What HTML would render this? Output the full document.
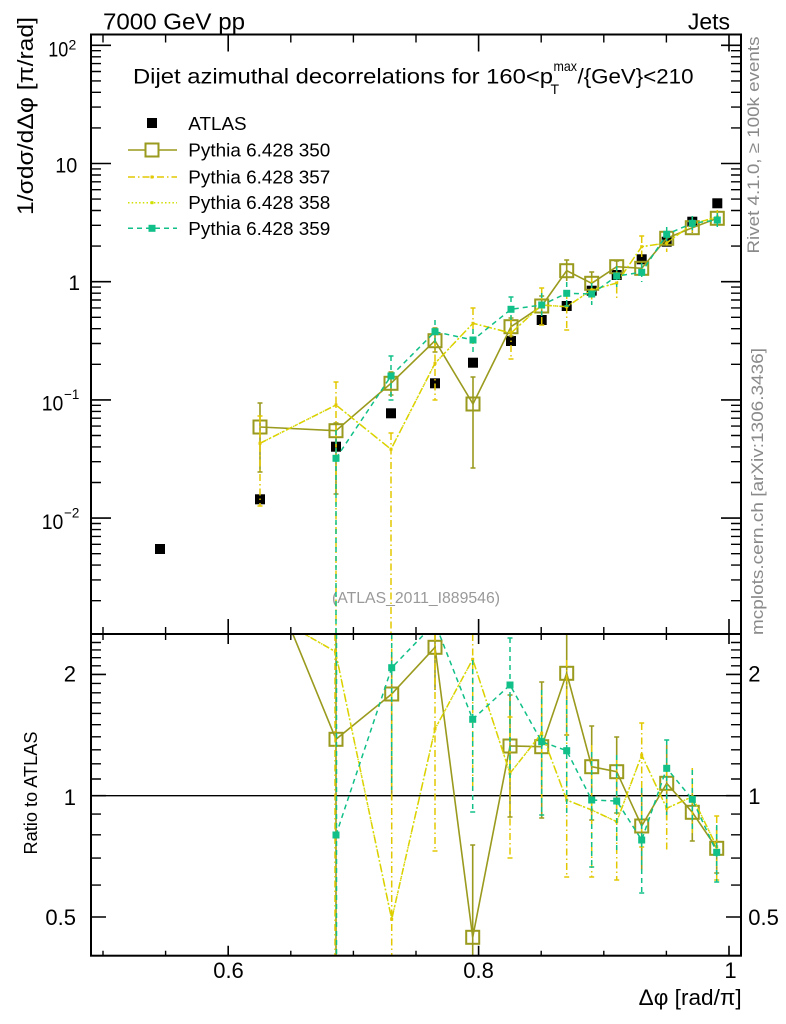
<!DOCTYPE html>
<html><head><meta charset="utf-8"><style>
html,body{margin:0;padding:0;background:#fff;}
svg{display:block;}
text{font-family:"Liberation Sans",sans-serif;}
</style></head><body>
<svg width="786" height="1024" viewBox="0 0 786 1024" xmlns="http://www.w3.org/2000/svg">
<defs>
<clipPath id="cu"><rect x="91" y="34.5" width="650" height="599.5"/></clipPath>
<clipPath id="cl"><rect x="91" y="634" width="650" height="321.7"/></clipPath>
</defs>
<rect width="786" height="1024" fill="#fff"/>

<!-- header texts -->
<text x="103" y="29.3" font-size="23" textLength="142" lengthAdjust="spacingAndGlyphs">7000 GeV pp</text>
<text x="730" y="29.3" font-size="23" text-anchor="end">Jets</text>

<!-- title -->
<text x="133" y="83.3" font-size="21.5" textLength="420" lengthAdjust="spacingAndGlyphs">Dijet azimuthal decorrelations for 160&lt;p</text>
<text x="553.5" y="71" font-size="14" textLength="23.5" lengthAdjust="spacingAndGlyphs">max</text>
<text x="550.5" y="94" font-size="14">T</text>
<text x="577.5" y="83.3" font-size="21.5" textLength="116" lengthAdjust="spacingAndGlyphs">/{GeV}&lt;210</text>

<!-- y axis titles -->
<text transform="translate(33,116) rotate(-90)" font-size="22" text-anchor="middle" textLength="198" lengthAdjust="spacingAndGlyphs">1/σdσ/dΔφ [π/rad]</text>
<text transform="translate(37,793) rotate(-90)" font-size="18.5" text-anchor="middle" textLength="123" lengthAdjust="spacingAndGlyphs">Ratio to ATLAS</text>

<!-- right side rotated gray texts -->
<text transform="translate(759,145) rotate(-90)" font-size="16.5" fill="#8a8a8a" text-anchor="middle" textLength="217" lengthAdjust="spacingAndGlyphs">Rivet 4.1.0, ≥ 100k events</text>
<text transform="translate(763,491.5) rotate(-90)" font-size="16.5" fill="#8a8a8a" text-anchor="middle" textLength="287" lengthAdjust="spacingAndGlyphs">mcplots.cern.ch [arXiv:1306.3436]</text>

<!-- analysis id -->
<text x="416" y="603" font-size="15.5" fill="#999" text-anchor="middle" textLength="168" lengthAdjust="spacingAndGlyphs">(ATLAS_2011_I889546)</text>

<!-- upper y tick labels -->
<text x="48.3" y="56.7" font-size="21" textLength="20" lengthAdjust="spacingAndGlyphs">10</text>
<text x="68.5" y="49.5" font-size="14">2</text>
<text x="77.3" y="172.7" font-size="21" text-anchor="end" textLength="22" lengthAdjust="spacingAndGlyphs">10</text>
<text x="80" y="290" font-size="21" text-anchor="end">1</text>
<text x="41.7" y="410.7" font-size="21" textLength="21.6" lengthAdjust="spacingAndGlyphs">10</text>
<text x="64" y="399" font-size="14" textLength="15.3" lengthAdjust="spacingAndGlyphs">−1</text>
<text x="41.7" y="529" font-size="21" textLength="21.6" lengthAdjust="spacingAndGlyphs">10</text>
<text x="64" y="517.5" font-size="14" textLength="15.3" lengthAdjust="spacingAndGlyphs">−2</text>

<!-- ratio tick labels -->
<text x="76" y="681.7" font-size="22" text-anchor="end">2</text>
<text x="76" y="805" font-size="22" text-anchor="end">1</text>
<text x="76" y="925" font-size="22" text-anchor="end">0.5</text>
<text x="748.3" y="681.7" font-size="22">2</text>
<text x="748.3" y="804" font-size="22">1</text>
<text x="748.3" y="925" font-size="22">0.5</text>

<!-- x tick labels -->
<text x="228.5" y="978" font-size="22" text-anchor="middle">0.6</text>
<text x="478.6" y="978" font-size="22" text-anchor="middle">0.8</text>
<text x="730.5" y="978" font-size="22" text-anchor="middle">1</text>
<text x="741.7" y="1005" font-size="22" text-anchor="end" textLength="103" lengthAdjust="spacingAndGlyphs">Δφ [rad/π]</text>

<!-- legend -->
<rect x="147" y="118" width="10" height="10" fill="#000"/>
<text x="188.3" y="130" font-size="18.5" textLength="58.3" lengthAdjust="spacingAndGlyphs">ATLAS</text>
<line x1="128" y1="150" x2="177" y2="150" stroke="#9a9a1e" stroke-width="1.6"/>
<rect x="145.5" y="143.5" width="13" height="13" fill="#fff" stroke="#9a9a1e" stroke-width="2"/>
<text x="188.3" y="156.7" font-size="18.5" textLength="142" lengthAdjust="spacingAndGlyphs">Pythia 6.428 350</text>
<line x1="128" y1="177" x2="177" y2="177" stroke="#e2c800" stroke-width="1.5" stroke-dasharray="7,3,1.5,3"/>
<rect x="150.5" y="175.5" width="3" height="3" fill="#e2c800"/>
<text x="188.3" y="183.5" font-size="18.5" textLength="142" lengthAdjust="spacingAndGlyphs">Pythia 6.428 357</text>
<line x1="128" y1="202.7" x2="177" y2="202.7" stroke="#d0e000" stroke-width="1.5" stroke-dasharray="1.5,2.2"/>
<rect x="150.5" y="201.2" width="3" height="3" fill="#d0e000"/>
<text x="188.3" y="209.2" font-size="18.5" textLength="142" lengthAdjust="spacingAndGlyphs">Pythia 6.428 358</text>
<line x1="128" y1="228.3" x2="177" y2="228.3" stroke="#10c088" stroke-width="1.5" stroke-dasharray="5,4"/>
<rect x="148.5" y="224.8" width="7" height="7" fill="#10c088"/>
<text x="188.3" y="234.8" font-size="18.5" textLength="142" lengthAdjust="spacingAndGlyphs">Pythia 6.428 359</text>

<!-- ===== UPPER PANEL DATA ===== -->
<g clip-path="url(#cu)">
<!-- ATLAS -->
<g fill="#000">
<rect x="155" y="544" width="10" height="10"/>
<rect x="255" y="494.3" width="10" height="10"/>
<rect x="331" y="441.7" width="10" height="10"/>
<rect x="386" y="408.3" width="10" height="10"/>
<rect x="430" y="378.3" width="10" height="10"/>
<rect x="468" y="357.7" width="10" height="10"/>
<rect x="506" y="336" width="10" height="10"/>
<rect x="536.7" y="315" width="10" height="10"/>
<rect x="561.7" y="301" width="10" height="10"/>
<rect x="586.7" y="285.7" width="10" height="10"/>
<rect x="611.7" y="270" width="10" height="10"/>
<rect x="636.7" y="254.3" width="10" height="10"/>
<rect x="661.7" y="236.7" width="10" height="10"/>
<rect x="687.3" y="216.7" width="10" height="10"/>
<rect x="712.3" y="198.3" width="10" height="10"/>
</g>

<!-- 350 -->
<g stroke="#9a9a1e" stroke-width="1.6" fill="none">
<polyline points="260,427 336,430.7 391,383.3 435,340.7 473,404 511,326.7 541.7,306 566.7,270.7 591.7,283.3 616.7,266.7 641.7,268.3 666.7,238.3 692.3,227.7 717.3,218.3"/>
<path d="M260 403V472M257.5 403h5M257.5 472h5M336 423V494M333.5 423h5M333.5 494h5M391 372V395M388.5 372h5M388.5 395h5M435 328V352M432.5 328h5M432.5 352h5M473 377V468M470.5 377h5M470.5 468h5M511 318V336M508.5 318h5M508.5 336h5M541.7 296V316M539.2 296h5M566.7 260V281M564.2 260h5M591.7 272V294M589.2 272h5M616.7 261V274M614.2 261h5M641.7 262V275M666.7 232V244M692.3 222V233M717.3 212V225"/>
</g>
<g stroke="#9a9a1e" stroke-width="2" fill="none">
<rect x="253.5" y="420.5" width="13" height="13"/>
<rect x="329.5" y="424.2" width="13" height="13"/>
<rect x="384.5" y="376.8" width="13" height="13"/>
<rect x="428.5" y="334.2" width="13" height="13"/>
<rect x="466.5" y="397.5" width="13" height="13"/>
<rect x="504.5" y="320.2" width="13" height="13"/>
<rect x="535.2" y="299.5" width="13" height="13"/>
<rect x="560.2" y="264.2" width="13" height="13"/>
<rect x="585.2" y="276.8" width="13" height="13"/>
<rect x="610.2" y="260.2" width="13" height="13"/>
<rect x="635.2" y="261.8" width="13" height="13"/>
<rect x="660.2" y="231.8" width="13" height="13"/>
<rect x="685.8" y="221.2" width="13" height="13"/>
<rect x="710.8" y="211.8" width="13" height="13"/>
</g>

<!-- 357 -->
<g stroke="#e2c800" stroke-width="1.5" fill="none" stroke-dasharray="7,3,1.5,3">
<polyline points="260,443.3 336,405 391,449.3 435,363.3 473,323.3 511,333 541.7,305 566.7,306.7 591.7,290 616.7,283 641.7,246.7 666.7,243 692.3,224 717.3,217"/>
<path d="M260 416V506M336 382V634M391 433V634M435 340V400M473 308V345M511 316V359M541.7 288V325M566.7 292V330M591.7 278V304M616.7 272V298M641.7 236V257M666.7 234V252M692.3 216V232M717.3 210V224"/>
</g>
<path d="M257.5 416h5M257.5 506h5M333.5 382h5M388.5 433h5M432.5 400h5M470.5 308h5M508.5 359h5M539.2 288h5M539.2 325h5M564.2 330h5M639.2 236h5" stroke="#e2c800" stroke-width="1.5"/>
<!-- 358 (overlaps 357) -->
<polyline points="260,443.3 336,405 391,449.3 435,363.3 473,323.3 511,333 541.7,305 566.7,306.7 591.7,290 616.7,283 641.7,246.7 666.7,243 692.3,224 717.3,217" stroke="#d0e000" stroke-width="1.4" fill="none" stroke-dasharray="1.5,2.2"/>
<g fill="#e2c800">
<rect x="258.5" y="441.8" width="3" height="3"/><rect x="334.5" y="403.5" width="3" height="3"/><rect x="389.5" y="447.8" width="3" height="3"/><rect x="433.5" y="361.8" width="3" height="3"/><rect x="471.5" y="321.8" width="3" height="3"/><rect x="509.5" y="331.5" width="3" height="3"/><rect x="540.2" y="303.5" width="3" height="3"/><rect x="565.2" y="305.2" width="3" height="3"/><rect x="590.2" y="288.5" width="3" height="3"/><rect x="615.2" y="281.5" width="3" height="3"/><rect x="640.2" y="245.2" width="3" height="3"/><rect x="665.2" y="241.5" width="3" height="3"/><rect x="690.8" y="222.5" width="3" height="3"/><rect x="715.8" y="215.5" width="3" height="3"/>
</g>

<!-- 359 -->
<g stroke="#10c088" stroke-width="1.5" fill="none" stroke-dasharray="5,4">
<polyline points="336,458.3 391,376 435,331.7 473,340 511,309.3 541.7,305 566.7,293.3 591.7,294 616.7,276 641.7,272.3 666.7,234.3 692.3,223.3 717.3,220"/>
<path d="M336 430V634M391 356V400M435 320V345M473 329V352M511 297V324M541.7 293V318M566.7 282V306M591.7 283V305M616.7 266V287M641.7 263V282M666.7 227V243M692.3 216V231M717.3 213V227"/>
</g>
<path d="M388.5 356h5M388.5 400h5M508.5 297h5M564.2 306h5" stroke="#10c088" stroke-width="1.5"/>
<g fill="#10c088">
<rect x="332.5" y="454.8" width="7" height="7"/><rect x="387.5" y="372.5" width="7" height="7"/><rect x="431.5" y="328.2" width="7" height="7"/><rect x="469.5" y="336.5" width="7" height="7"/><rect x="507.5" y="305.8" width="7" height="7"/><rect x="538.2" y="301.5" width="7" height="7"/><rect x="563.2" y="289.8" width="7" height="7"/><rect x="588.2" y="290.5" width="7" height="7"/><rect x="613.2" y="272.5" width="7" height="7"/><rect x="638.2" y="268.8" width="7" height="7"/><rect x="663.2" y="230.8" width="7" height="7"/><rect x="688.8" y="219.8" width="7" height="7"/><rect x="713.8" y="216.5" width="7" height="7"/>
</g>
</g>

<!-- ===== LOWER PANEL DATA ===== -->
<line x1="91" y1="795.7" x2="741" y2="795.7" stroke="#000" stroke-width="1.3"/>
<g clip-path="url(#cl)">
<!-- 350 -->
<g stroke="#9a9a1e" stroke-width="1.6" fill="none">
<polyline points="260,554 336,739.3 391.7,694 435,647.3 472.7,937.3 510,746 541.7,746.7 566.7,673.3 591.7,766.7 616.7,771.7 641.7,826 666.7,783.3 692.3,812.3 716.7,848.3"/>
<path d="M336 634V956M391.7 655V800M435 634V690M472.7 845V956M470.2 845h5M510 695V817M507.5 695h5M507.5 817h5M541.7 682V818M539.2 682h5M539.2 818h5M566.7 634V735M564.2 735h5M591.7 726V820M589.2 726h5M589.2 820h5M616.7 737V813M614.2 737h5M614.2 813h5M641.7 790V870M666.7 745V820M692.3 790V841M689.8 841h5M716.7 827V873M714.2 873h5"/>
</g>
<g stroke="#9a9a1e" stroke-width="2" fill="none">
<rect x="329.5" y="732.8" width="13" height="13"/>
<rect x="385.2" y="687.5" width="13" height="13"/>
<rect x="428.5" y="640.8" width="13" height="13"/>
<rect x="466.2" y="930.8" width="13" height="13"/>
<rect x="503.5" y="739.5" width="13" height="13"/>
<rect x="535.2" y="740.2" width="13" height="13"/>
<rect x="560.2" y="666.8" width="13" height="13"/>
<rect x="585.2" y="760.2" width="13" height="13"/>
<rect x="610.2" y="765.2" width="13" height="13"/>
<rect x="635.2" y="819.5" width="13" height="13"/>
<rect x="660.2" y="776.8" width="13" height="13"/>
<rect x="685.8" y="805.8" width="13" height="13"/>
<rect x="710.2" y="841.8" width="13" height="13"/>
</g>
<!-- 357 -->
<g stroke="#e2c800" stroke-width="1.5" fill="none" stroke-dasharray="7,3,1.5,3">
<polyline points="260,608.7 335.5,651.7 391.7,919.3 435,729 472.7,659.3 510,773.3 541.7,733.3 566.7,800 591.7,810 616.7,821.7 641.7,755 666.7,808.3 692.3,796.7 716.7,846.7"/>
<path d="M335 634V956M391.7 634V956M435 634V851M472.7 634V790M510 717V858M541.7 690V803M566.7 660V877M591.7 745V877M616.7 760V880M641.7 723V847M666.7 770V850M692.3 768V833M716.7 816V880"/>
</g>
<path d="M432.5 851h5M507.5 717h5M507.5 858h5M564.2 877h5M589.2 877h5M614.2 880h5M639.2 723h5M639.2 847h5M714.2 816h5M714.2 880h5" stroke="#e2c800" stroke-width="1.5"/>
<polyline points="260,608.7 335.5,651.7 391.7,919.3 435,729 472.7,659.3 510,773.3 541.7,733.3 566.7,800 591.7,810 616.7,821.7 641.7,755 666.7,808.3 692.3,796.7 716.7,846.7" stroke="#d0e000" stroke-width="1.4" fill="none" stroke-dasharray="1.5,2.2"/>
<g fill="#e2c800">
<rect x="334" y="650.2" width="3" height="3"/><rect x="390.2" y="917.8" width="3" height="3"/><rect x="433.5" y="727.5" width="3" height="3"/><rect x="471.2" y="657.8" width="3" height="3"/><rect x="508.5" y="771.8" width="3" height="3"/><rect x="540.2" y="731.8" width="3" height="3"/><rect x="565.2" y="798.5" width="3" height="3"/><rect x="590.2" y="808.5" width="3" height="3"/><rect x="615.2" y="820.2" width="3" height="3"/><rect x="640.2" y="753.5" width="3" height="3"/><rect x="665.2" y="806.8" width="3" height="3"/><rect x="690.8" y="795.2" width="3" height="3"/><rect x="715.2" y="845.2" width="3" height="3"/>
</g>
<!-- 359 -->
<g stroke="#10c088" stroke-width="1.5" fill="none" stroke-dasharray="5,4">
<polyline points="336,835 391.7,667.7 435,623 472.7,719.3 510,685 541.7,741.7 566.7,750.7 591.7,800 616.7,801 641.7,840 666.7,768.3 692.3,799.3 716.7,852.3"/>
<path d="M336.5 634V956M391.7 634V790M472.7 660V812M510 638V780M541.7 690V815M566.7 700V815M591.7 752V867M616.7 755V853M641.7 788V893M666.7 740V815M692.3 770V830M716.7 825V882"/>
</g>
<path d="M470.2 812h5M507.5 638h5M539.2 815h5M589.2 867h5M639.2 893h5M664.2 740h5M714.2 882h5" stroke="#10c088" stroke-width="1.5"/>
<g fill="#10c088">
<rect x="332.5" y="831.5" width="7" height="7"/><rect x="388.2" y="664.2" width="7" height="7"/><rect x="469.2" y="715.8" width="7" height="7"/><rect x="506.5" y="681.5" width="7" height="7"/><rect x="538.2" y="738.2" width="7" height="7"/><rect x="563.2" y="747.2" width="7" height="7"/><rect x="588.2" y="796.5" width="7" height="7"/><rect x="613.2" y="797.5" width="7" height="7"/><rect x="638.2" y="836.5" width="7" height="7"/><rect x="663.2" y="764.8" width="7" height="7"/><rect x="688.8" y="795.8" width="7" height="7"/><rect x="713.2" y="848.8" width="7" height="7"/>
</g>
</g>

<!-- ===== FRAMES & TICKS ===== -->
<g stroke="#000" fill="none">
<rect x="91" y="34.5" width="650" height="599.5" stroke-width="2"/>
<rect x="91" y="634" width="650" height="321.7" stroke-width="2"/>
<!-- upper y ticks left/right majors -->
<path stroke-width="1.6" d="M91 45.3h20M91 163.5h20M91 281.7h20M91 399.9h20M91 518.1h20M741 45.3h-20M741 163.5h-20M741 281.7h-20M741 399.9h-20M741 518.1h-20"/>
<!-- upper y minor ticks -->
<path stroke-width="1.4" d="M91 127.9h10M91 107.1h10M91 92.3h10M91 80.9h10M91 71.5h10M91 63.6h10M91 56.8h10M91 50.7h10M91 246.1h10M91 225.3h10M91 210.5h10M91 199.1h10M91 189.7h10M91 181.8h10M91 175h10M91 168.9h10M91 364.3h10M91 343.5h10M91 328.7h10M91 317.3h10M91 307.9h10M91 300h10M91 293.2h10M91 287.1h10M91 482.5h10M91 461.7h10M91 446.9h10M91 435.5h10M91 426.1h10M91 418.2h10M91 411.4h10M91 405.3h10M91 600.7h10M91 579.9h10M91 565.1h10M91 553.7h10M91 544.3h10M91 536.4h10M91 529.6h10M91 523.5h10
M741 127.9h-10M741 107.1h-10M741 92.3h-10M741 80.9h-10M741 71.5h-10M741 63.6h-10M741 56.8h-10M741 50.7h-10M741 246.1h-10M741 225.3h-10M741 210.5h-10M741 199.1h-10M741 189.7h-10M741 181.8h-10M741 175h-10M741 168.9h-10M741 364.3h-10M741 343.5h-10M741 328.7h-10M741 317.3h-10M741 307.9h-10M741 300h-10M741 293.2h-10M741 287.1h-10M741 482.5h-10M741 461.7h-10M741 446.9h-10M741 435.5h-10M741 426.1h-10M741 418.2h-10M741 411.4h-10M741 405.3h-10M741 600.7h-10M741 579.9h-10M741 565.1h-10M741 553.7h-10M741 544.3h-10M741 536.4h-10M741 529.6h-10M741 523.5h-10"/>
<!-- x ticks upper panel -->
<path stroke-width="1.6" d="M228.2 34.5v17M478.6 34.5v17M729 34.5v17M228.2 634v-15M478.6 634v-15M729 634v-15"/>
<path stroke-width="1.4" d="M103 34.5v8M165.6 34.5v8M290.8 34.5v8M353.4 34.5v8M416 34.5v8M541.2 34.5v8M603.8 34.5v8M666.4 34.5v8M103 634v-7M165.6 634v-7M290.8 634v-7M353.4 634v-7M416 634v-7M541.2 634v-7M603.8 634v-7M666.4 634v-7"/>
<!-- x ticks lower panel -->
<path stroke-width="1.6" d="M228.2 634v10M478.6 634v10M729 634v10M228.2 955.7v-10M478.6 955.7v-10M729 955.7v-10"/>
<path stroke-width="1.4" d="M103 634v6M165.6 634v6M290.8 634v6M353.4 634v6M416 634v6M541.2 634v6M603.8 634v6M666.4 634v6M103 955.7v-5M165.6 955.7v-5M290.8 955.7v-5M353.4 955.7v-5M416 955.7v-5M541.2 955.7v-5M603.8 955.7v-5M666.4 955.7v-5"/>
<!-- lower y ticks -->
<path stroke-width="1.6" d="M91 917h15M91 795.7h15M91 674.4h15M741 917h-15M741 795.7h-15M741 674.4h-15"/>
<path stroke-width="1.4" d="M91 885.1h10M91 858.1h10M91 834.8h10M91 814.1h10M91 779h10M91 763.8h10M91 749.8h10M91 736.8h10M91 724.7h10M91 713.4h10M91 702.8h10M91 692.8h10M91 683.4h10M91 665.8h10M91 657.7h10M91 649.9h10M91 642.5h10
M741 885.1h-10M741 858.1h-10M741 834.8h-10M741 814.1h-10M741 779h-10M741 763.8h-10M741 749.8h-10M741 736.8h-10M741 724.7h-10M741 713.4h-10M741 702.8h-10M741 692.8h-10M741 683.4h-10M741 665.8h-10M741 657.7h-10M741 649.9h-10M741 642.5h-10"/>
</g>
</svg>
</body></html>
